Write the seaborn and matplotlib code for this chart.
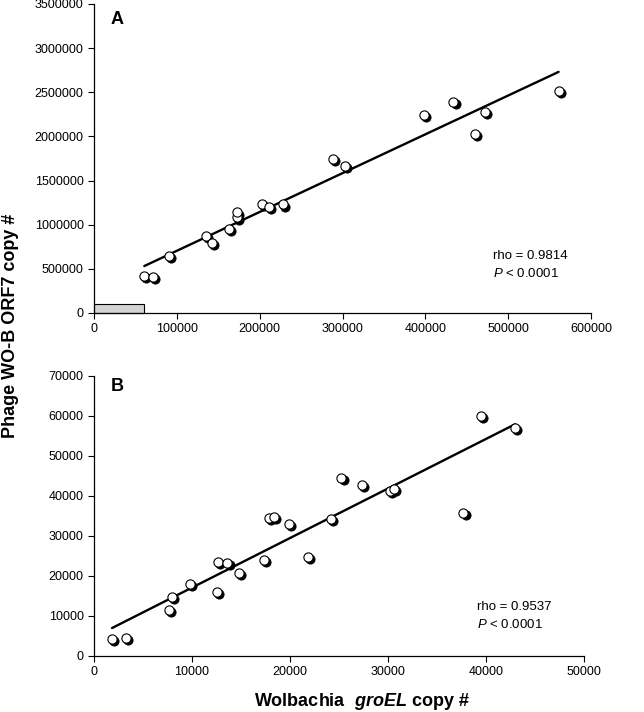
import matplotlib
matplotlib.use("Agg")
import matplotlib.pyplot as plt
import matplotlib.transforms as mtransforms
from matplotlib.patches import Rectangle
import pandas as pd
import seaborn as sns

# Panel A: Wolbachia groEL copy # vs phage WO-B ORF7 copy #
groel_a = [60700, 71600, 90900, 134700, 141900, 162400, 172100, 172500, 203100,
           211100, 227600, 288300, 302800, 398500, 433900, 460000, 471700, 560900]
orf7_a = [422000, 403000, 648000, 875000, 792000, 950000, 1082000, 1139000, 1233000,
          1199000, 1229000, 1742000, 1670000, 2240000, 2394000, 2032000, 2274000, 2515000]

# Panel B: low copy range
groel_b = [1840, 3230, 7620, 7930, 9830, 12520, 12620, 13610, 14800, 17380, 17860,
           18330, 19930, 21800, 24150, 25240, 27380, 30200, 30610, 37690, 39460, 42960]
orf7_b = [4250, 4420, 11500, 14830, 18000, 16000, 23420, 23170, 20830, 23920, 34580,
          34750, 33000, 24830, 34170, 44500, 42830, 41250, 41670, 35830, 60080, 57080]

xticks_a = [0, 100000, 200000, 300000, 400000, 500000, 600000]
yticks_a = [0, 500000, 1000000, 1500000, 2000000, 2500000, 3000000, 3500000]
xticks_b = [0, 10000, 20000, 30000, 40000, 50000]
yticks_b = [0, 10000, 20000, 30000, 40000, 50000, 60000, 70000]

panel_letters = ["A", "B"]
rho_text = ["rho = 0.9814", "rho = 0.9537"]
p_text = r"$\mathit{P}$ < 0.0001"
# grey box in panel A marking the range of panel B
zoom_box = (60000, 100000)

sns.set_style("ticks")
plt.rcParams["font.family"] = ["Liberation Sans", "DejaVu Sans"]
plt.rcParams["text.color"] = "black"
plt.rcParams["mathtext.fontset"] = "custom"
plt.rcParams["mathtext.rm"] = "Liberation Sans"
plt.rcParams["mathtext.it"] = "Liberation Sans:italic"
plt.rcParams["mathtext.bf"] = "Liberation Sans:bold"
plt.rcParams["mathtext.bfit"] = "Liberation Sans:italic:bold"

fig = plt.figure(figsize=(6.44, 7.12), dpi=100)
ax_a = fig.add_axes([0.146, 0.5604, 0.7717, 0.434])
ax_b = fig.add_axes([0.146, 0.0787, 0.761, 0.3933])


def draw_panel(ax, x, y, letter, rho, xticks, yticks, text_pos):
    df = pd.DataFrame({"groel": x, "orf7": y})
    # black "shadow" circles slightly down-right of the white ones
    shadow = ax.transData + mtransforms.ScaledTranslation(1.5 / 72, -1.5 / 72,
                                                          fig.dpi_scale_trans)
    sns.regplot(data=df, x="groel", y="orf7", ax=ax, scatter=False, ci=None,
                truncate=True, line_kws=dict(color="black", lw=1.7, zorder=2))
    sns.scatterplot(data=df, x="groel", y="orf7", ax=ax, color="black", s=44,
                    edgecolor="black", linewidth=0.6, transform=shadow, zorder=3)
    sns.scatterplot(data=df, x="groel", y="orf7", ax=ax, color="white", s=44,
                    edgecolor="black", linewidth=0.8, zorder=4)
    ax.set_xlim(xticks[0], xticks[-1])
    ax.set_ylim(yticks[0], yticks[-1])
    ax.set_xticks(xticks)
    ax.set_yticks(yticks)
    ax.set_xticklabels([str(t) for t in xticks])
    ax.set_yticklabels([str(t) for t in yticks])
    ax.set_xlabel("")
    ax.set_ylabel("")
    ax.tick_params(labelsize=9, length=4, width=0.8, direction="out", colors="black")
    sns.despine(ax=ax)
    for s in ["left", "bottom"]:
        ax.spines[s].set_linewidth(0.9)
        ax.spines[s].set_color("black")
    ax.text(0.034, text_pos[0], letter, transform=ax.transAxes, fontsize=13,
            fontweight="bold", ha="left", va="center", color="black")
    ax.text(text_pos[1], text_pos[2], rho, transform=ax.transAxes, fontsize=9.5,
            ha="left", va="center", color="black")
    ax.text(text_pos[1], text_pos[3], p_text, transform=ax.transAxes, fontsize=9.5,
            ha="left", va="center", color="black")


draw_panel(ax_a, groel_a, orf7_a, panel_letters[0], rho_text[0], xticks_a, yticks_a,
           (0.951, 0.802, 0.183, 0.127))
draw_panel(ax_b, groel_b, orf7_b, panel_letters[1], rho_text[1], xticks_b, yticks_b,
           (0.962, 0.781, 0.176, 0.114))

ax_a.add_patch(Rectangle((0, 0), zoom_box[0], zoom_box[1], facecolor="#d4d4d4",
                         edgecolor="black", lw=0.8, zorder=1, clip_on=False))

fig.text(0.017, 1 - 326 / 712, "Phage WO-B ORF7 copy #", rotation=90, fontsize=13,
         fontweight="bold", ha="center", va="center", color="black")
fig.text(362 / 644, 1 - 702 / 712, r"Wolbachia  $\mathbfit{groEL}$ copy #",
         fontsize=13, fontweight="bold", ha="center", va="center", color="black")

fig.savefig("out.png", dpi=100)
